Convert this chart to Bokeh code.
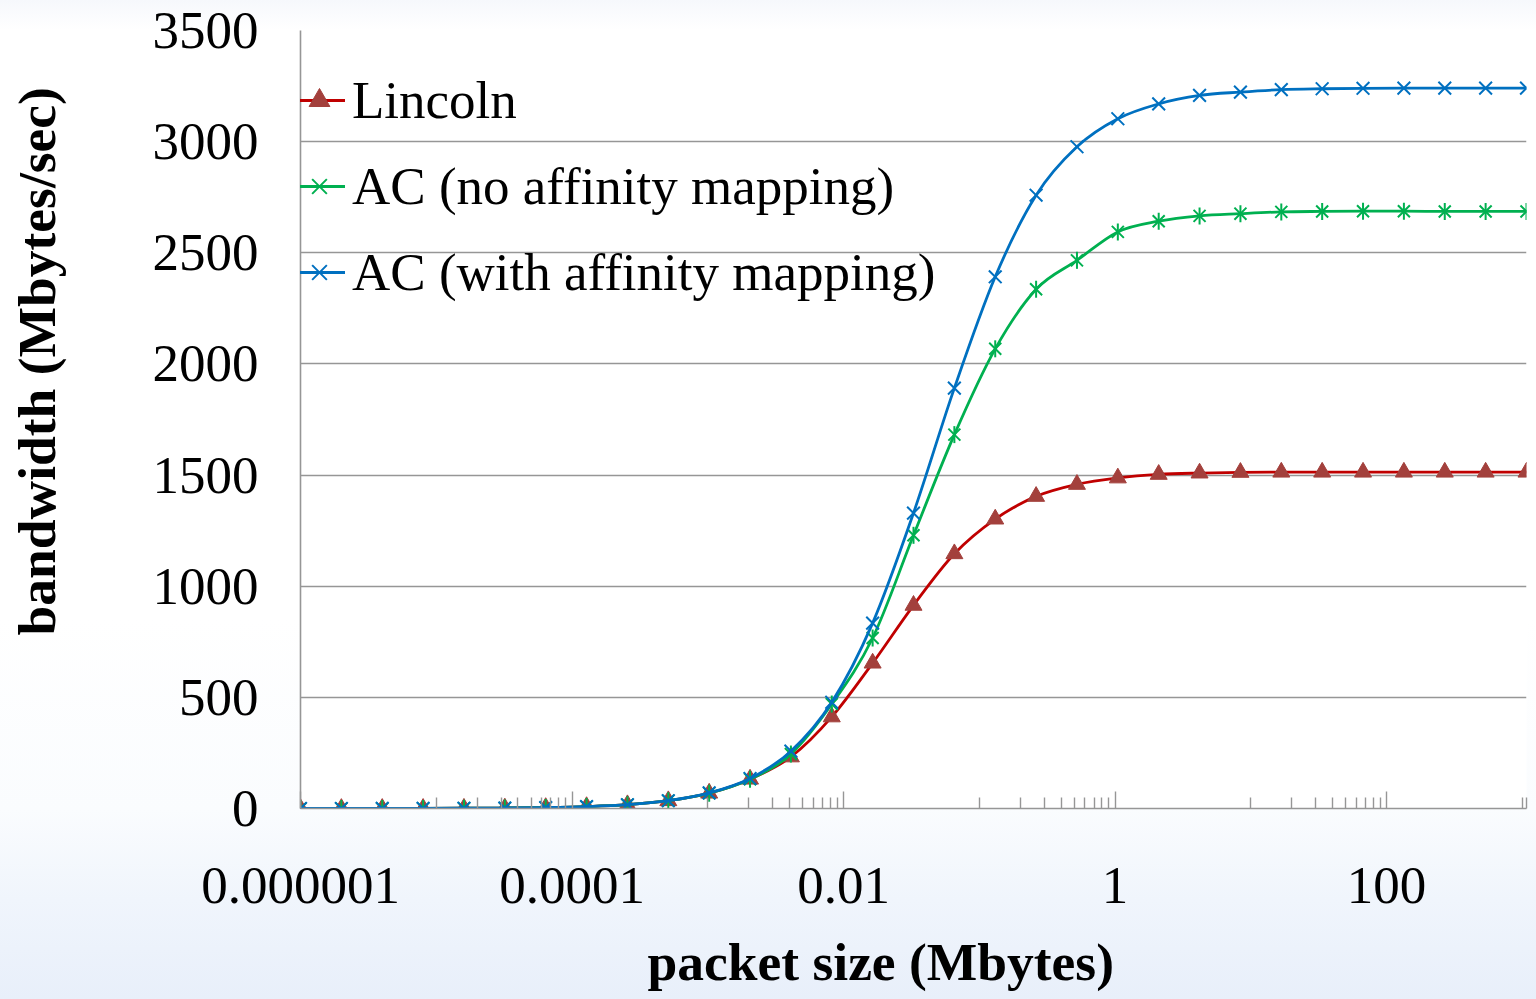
import numpy as np
from bokeh.plotting import figure
from bokeh.models import (Range1d, FixedTicker, CustomJSTickFormatter, Legend,
                          LegendItem, Title, LogAxis, LinearAxis)
from bokeh.embed import file_html
from bokeh.resources import INLINE

# ---------------- data ----------------
packet_exp = list(range(31))                       # packet size = 1e-6 * 2**k Mbytes
packet_size = [1e-6 * 2 ** k for k in packet_exp]

lincoln = [0.1, 0.2, 0.3, 0.5, 1.1, 2.1, 4.3, 8.5, 17, 35, 69, 132, 232, 412, 654,
           914, 1146, 1302, 1404, 1458, 1487, 1503, 1509, 1512, 1513, 1513, 1513,
           1513, 1513, 1513, 1513]
ac_no_affinity = [0.1, 0.2, 0.3, 0.5, 1.1, 2.1, 4.3, 8.5, 17, 35, 69, 132, 245, 470,
                  767, 1229, 1682, 2068, 2336, 2466, 2594, 2642, 2666, 2676, 2684,
                  2686, 2687, 2687, 2686, 2686, 2686]
ac_affinity = [0.1, 0.2, 0.3, 0.5, 1.1, 2.1, 4.3, 8.5, 17, 35, 70, 135, 258, 478,
               834, 1329, 1891, 2392, 2759, 2977, 3103, 3170, 3208, 3223, 3234,
               3238, 3240, 3241, 3241, 3241, 3241]

series_names = ["Lincoln", "AC (no affinity mapping)", "AC (with affinity mapping)"]
x_ticks = [1e-6, 1e-4, 1e-2, 1, 100]
x_tick_labels = ["0.000001", "0.0001", "0.01", "1", "100"]
y_ticks = [0, 500, 1000, 1500, 2000, 2500, 3000, 3500]
x_title = "packet size (Mbytes)"
y_title = "bandwidth (Mbytes/sec)"

# ---------------- styles ----------------
FONT = "Liberation Serif"
GRID = "#969696"
W, H = 1536, 999
FL, FT, FR, FB = 300, 30, 1526, 808   # frame edges on the canvas

x_lo, x_hi = packet_size[0], packet_size[-1]

# minor ticks like Excel's base-100 log axis: 10^(odd) * 1..9
minor = []
for e in range(-5, 4, 2):
    for m in range(1, 10):
        v = m * 10.0 ** e
        if x_lo < v <= x_hi:
            minor.append(v)
minor.append(x_hi)

p = figure(width=W, height=H, x_axis_type="log",
           x_range=Range1d(x_lo, x_hi), y_range=Range1d(0, 3500),
           output_backend="svg", toolbar_location=None,
           min_border_left=FL, min_border_right=W - FR,
           min_border_top=FT, min_border_bottom=H - FB)
p.outline_line_color = None
p.background_fill_color = "white"
p.border_fill_color = None
# chart-area background: white fading to a light blue at the bottom
p.styles = {"background": "linear-gradient(to bottom, #F6F8FC 0%, #FFFFFF 3%, "
                          "#FFFFFF 62%, #FAFCFE 81%, #F0F5FC 90%, #E8EFFA 100%)"}

# grid
p.xgrid.visible = False
p.ygrid.ticker = FixedTicker(ticks=y_ticks)
p.ygrid.grid_line_color = GRID
p.ygrid.grid_line_width = 1.6

# x axis
xa = p.xaxis[0]
xa.ticker = FixedTicker(ticks=x_ticks, minor_ticks=minor)
xa.formatter = CustomJSTickFormatter(
    args=dict(tick_values=x_ticks, tick_labels=x_tick_labels), code="""
    for (let i = 0; i < tick_values.length; i++) {
        if (Math.abs(Math.log10(tick_values[i]) - Math.log10(tick)) < 1e-6) return tick_labels[i];
    }
    return '';
""")
xa.axis_line_color = GRID
xa.axis_line_width = 1.6
xa.major_tick_line_color = GRID
xa.minor_tick_line_color = GRID
xa.major_tick_line_width = 1.4
xa.minor_tick_line_width = 1.4
xa.major_tick_in = 17
xa.major_tick_out = 0
xa.minor_tick_in = 11
xa.minor_tick_out = 0
xa.major_label_standoff = 59
xa.major_label_text_font = FONT
xa.major_label_text_font_size = "53px"
xa.major_label_text_color = "black"

# y axis
ya = p.yaxis[0]
ya.ticker = FixedTicker(ticks=y_ticks)
ya.axis_line_color = GRID
ya.axis_line_width = 1.6
ya.major_tick_line_color = None
ya.minor_tick_line_color = None
ya.major_tick_in = 0
ya.major_tick_out = 0
ya.minor_tick_in = 0
ya.minor_tick_out = 0
ya.major_label_standoff = 42
ya.major_label_text_font = FONT
ya.major_label_text_font_size = "53px"
ya.major_label_text_color = "black"


# unlabeled axes with one invisible tick, used only as spacers between the
# tick labels and the axis titles
def spacer(axis_cls, at, gap):
    return axis_cls(ticker=FixedTicker(ticks=[at], minor_ticks=[]),
                    formatter=CustomJSTickFormatter(code="return ''"),
                    axis_line_color=None,
                    major_tick_line_color="white", major_tick_line_alpha=0.01,
                    minor_tick_line_color=None,
                    major_tick_in=0, major_tick_out=gap, minor_tick_in=0,
                    minor_tick_out=0, major_label_standoff=0)


p.add_layout(spacer(LogAxis, x_lo, 26), "below")
p.add_layout(spacer(LinearAxis, y_ticks[-1], 83), "left")

# axis titles placed off-centre like the original
p.add_layout(Title(text=x_title, align="left", offset=347, vertical_align="top",
                   standoff=0, text_font=FONT, text_font_size="53.5px",
                   text_font_style="bold", text_color="black"), "below")
p.add_layout(Title(text=y_title, align="left", offset=173, vertical_align="bottom",
                   standoff=0, text_font=FONT, text_font_size="53.5px",
                   text_font_style="bold", text_color="black"), "left")


# smoothed (Excel-like) curves built from the data points
def smooth_segments(xs, ys):
    u = np.log10(np.asarray(xs, float))
    v = np.asarray(ys, float)
    n = len(u)
    up = np.concatenate([[u[0]], u, [u[-1]]])
    vp = np.concatenate([[v[0]], v, [v[-1]]])
    cu0 = u[:-1] + (up[2:n + 1] - up[0:n - 1]) / 6
    cv0 = v[:-1] + (vp[2:n + 1] - vp[0:n - 1]) / 6
    cu1 = u[1:] - (up[3:n + 2] - up[1:n]) / 6
    cv1 = v[1:] - (vp[3:n + 2] - vp[1:n]) / 6
    return dict(x0=10 ** u[:-1], y0=v[:-1], x1=10 ** u[1:], y1=v[1:],
                cx0=10 ** cu0, cy0=cv0, cx1=10 ** cu1, cy1=cv1)


items = []

# Lincoln
s = smooth_segments(packet_size, lincoln)
b1 = p.bezier(**s, line_color="#C00000", line_width=2.8)
m1 = p.scatter(packet_size, lincoln, marker="triangle", size=17,
               fill_color="#A3403C", line_color="#A3403C", line_width=1)
items.append(LegendItem(label=series_names[0], renderers=[b1, m1]))

# AC (no affinity mapping)
s = smooth_segments(packet_size, ac_no_affinity)
b2 = p.bezier(**s, line_color="#00B050", line_width=2.8)
m2a = p.scatter(packet_size, ac_no_affinity, marker="x", size=17,
                line_color="#00B050", line_width=2)
m2b = p.scatter(packet_size, ac_no_affinity, marker="dash", size=17, angle=np.pi / 2,
                line_color="#00B050", line_width=2)
items.append(LegendItem(label=series_names[1], renderers=[b2, m2a, m2b]))

# AC (with affinity mapping)
s = smooth_segments(packet_size, ac_affinity)
b3 = p.bezier(**s, line_color="#0070C0", line_width=2.8)
m3 = p.scatter(packet_size, ac_affinity, marker="x", size=18,
               line_color="#0070C0", line_width=2)
items.append(LegendItem(label=series_names[2], renderers=[b3, m3]))

legend = Legend(items=items, location=(-7, FB - 272 - 30),
                label_text_font=FONT, label_text_font_size="53px",
                label_text_color="black", glyph_width=52, glyph_height=60,
                label_height=60, label_standoff=7, spacing=26, padding=0,
                margin=0, background_fill_alpha=0, border_line_alpha=0)
p.add_layout(legend)

open("out.html", "w").write(file_html(p, INLINE))
